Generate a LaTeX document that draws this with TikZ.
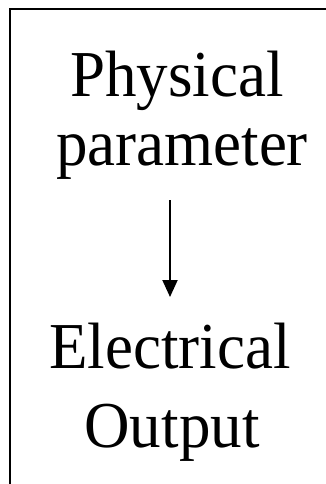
\documentclass[tikz,border=0pt]{standalone}
\usepackage{fontspec}
\setmainfont{Liberation Serif}
\usetikzlibrary{arrows.meta}
\newcommand{\tallword}[1]{\scalebox{1}[1.04]{#1}}
\begin{document}
\begin{tikzpicture}[x=1pt,y=-1pt,
  label/.style={inner sep=0pt,anchor=base,font=\fontsize{63}{63}\selectfont},
  frame/.style={line width=2pt},
  flow/.style={line width=2pt,-{Triangle[length=17pt,width=15pt]}}]
  \useasboundingbox (0,0) rectangle (325,484);
  % open frame: top and left edges only
  \draw[frame] (10,484) -- (10,9) -- (326,9);
  \node[label] (phys) at (177,97) {\tallword{Physical}};
  \node[label] (param) at (182,165) {\tallword{parameter}};
  \node[label] (elec) at (170,368) {\tallword{Electrical}};
  \node[label] (out) at (172,447) {\tallword{Output}};
  \coordinate (a) at (170,200);
  \coordinate (b) at (170,297);
  \draw[flow] (a) -- (b);
\end{tikzpicture}
\end{document}
